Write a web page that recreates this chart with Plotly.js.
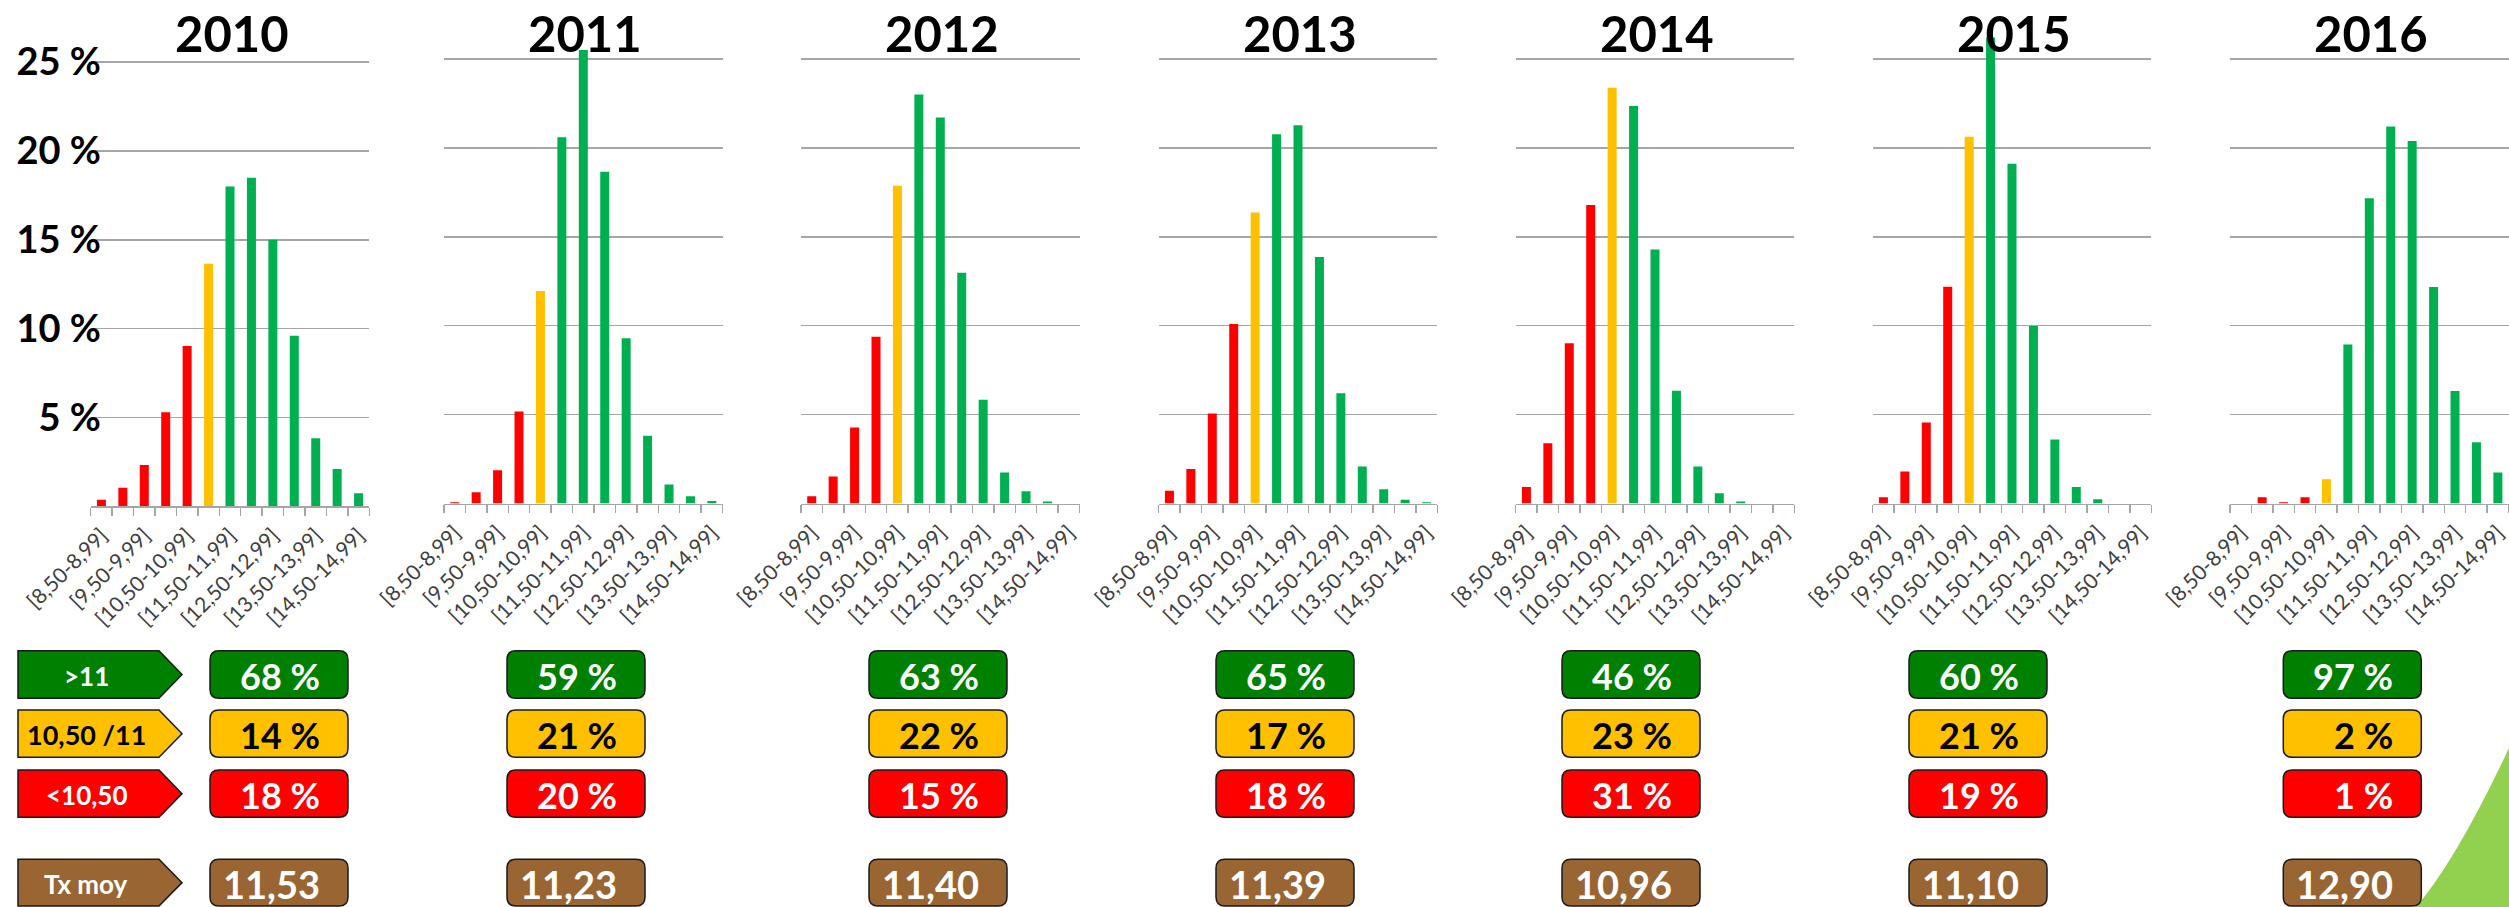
<!DOCTYPE html>
<html>
<head>
<meta charset="utf-8">
<script src="https://cdn.plot.ly/plotly-3.0.1.min.js"></script>
<style>
  html, body { margin: 0; padding: 0; background: #ffffff; }
  #chart { width: 2509px; height: 907px; }
</style>
</head>
<body>
<div id="chart"></div>
<script>
// ---------------- DATA ----------------
const years = ['2010', '2011', '2012', '2013', '2014', '2015', '2016'];

const categories = ['[8,50-8,99]', '[9,00-9,49]', '[9,50-9,99]', '[10,00-10,49]', '[10,50-10,99]',
  '[11,00-11,49]', '[11,50-11,99]', '[12,00-12,49]', '[12,50-12,99]', '[13,00-13,49]',
  '[13,50-13,99]', '[14,00-14,49]', '[14,50-14,99]'];

const v2010 = [0.38, 1.05, 2.33, 5.30, 9.03, 13.66, 18.0, 18.5, 15.0, 9.6, 3.84, 2.1, 0.74];
const v2011 = [0.08, 0.64, 1.87, 5.18, 11.95, 20.6, 25.5, 18.65, 9.3, 3.82, 1.08, 0.42, 0.14];
const v2012 = [0.42, 1.53, 4.28, 9.38, 17.87, 23.0, 21.7, 12.97, 5.84, 1.75, 0.70, 0.12, 0];
const v2013 = [0.72, 1.95, 5.06, 10.1, 16.37, 20.76, 21.27, 13.86, 6.2, 2.09, 0.8, 0.22, 0.08];
const v2014 = [0.94, 3.39, 9.02, 16.79, 23.37, 22.35, 14.28, 6.35, 2.09, 0.58, 0.12, 0, 0];
const v2015 = [0.36, 1.81, 4.56, 12.19, 20.62, 26.2, 19.1, 9.98, 3.61, 0.94, 0.24, 0, 0];
const v2016 = [0, 0.36, 0.08, 0.36, 1.37, 8.94, 17.17, 21.2, 20.38, 12.17, 6.33, 3.45, 1.75];

// class of each bar: r = <10,50, y = 10,50/11, g = >11
const c2010 = ['r','r','r','r','r','y','g','g','g','g','g','g','g'];
const c2011 = ['r','r','r','r','y','g','g','g','g','g','g','g','g'];
const c2012 = c2011, c2013 = c2011, c2014 = c2011, c2015 = c2011, c2016 = c2011;

const yTicks = [5, 10, 15, 20, 25];

const rowLabels = ['>11', '10,50 /11', '<10,50', 'Tx moy'];
const pctHigh = [68, 59, 63, 65, 46, 60, 97];
const pctMid  = [14, 21, 22, 17, 23, 21, 2];
const pctLow  = [18, 20, 15, 18, 31, 19, 1];
const txMoy   = ['11,53', '11,23', '11,40', '11,39', '10,96', '11,10', '12,90'];

// ---------------- STYLE / LAYOUT ----------------
const values = [v2010, v2011, v2012, v2013, v2014, v2015, v2016];
const classes = [c2010, c2011, c2012, c2013, c2014, c2015, c2016];
const barColor = { r: '#FF0000', y: '#FFC000', g: '#00B050' };

const W = 2509, H = 907;
const px = x => x / W;
const py = y => 1 - y / H;

const panelLeft = [90.7, 444.0, 801.0, 1158.7, 1515.7, 1872.7, 2230.0];
const panelW = 278.6;
const baseY = [506.4, 503.6, 503.6, 503.6, 503.6, 503.6, 503.6];
const pxPerPct = [17.77, 17.79, 17.79, 17.79, 17.79, 17.79, 17.79];
const yMax = 27;

const boxLeft = [210, 507, 869, 1216, 1562, 1909, 2283.3];
const boxW = 138;
const rowsY = [[650.7, 698.3], [710, 757.3], [770, 817.3], [859.3, 906]];
const rowFill = ['#008000', '#FFC000', '#FF0000', '#996633'];
const rowText = ['#ffffff', '#000000', '#ffffff', '#ffffff'];

const FONT = 'Lato, "Open Sans", sans-serif';

const traces = [];
const layout = {
  width: W, height: H,
  margin: { l: 0, r: 0, t: 0, b: 0 },
  paper_bgcolor: '#ffffff', plot_bgcolor: 'rgba(0,0,0,0)',
  showlegend: false, bargap: 0.58,
  font: { family: FONT },
  shapes: [], annotations: []
};

const xIdx = categories.map((c, j) => j);
const labelIdx = xIdx.filter(j => j % 2 === 0);

years.forEach((yr, i) => {
  const sx = i === 0 ? '' : String(i + 1);
  traces.push({
    type: 'bar',
    x: xIdx,
    y: values[i],
    xaxis: 'x' + sx, yaxis: 'y' + sx,
    marker: { color: classes[i].map(c => barColor[c]), line: { width: 0 } },
    width: 0.42,
    hoverinfo: 'x+y'
  });
  const L = panelLeft[i];
  layout['xaxis' + sx] = {
    domain: [px(L), px(L + panelW)],
    anchor: 'y' + sx,
    range: [-0.5, 12.5],
    fixedrange: true,
    showgrid: false, zeroline: false,
    showline: true, linecolor: '#a6a6a6', linewidth: 1.5,
    tickmode: 'array',
    tickvals: labelIdx,
    ticktext: labelIdx.map(j => categories[j]),
    tickangle: -45,
    ticklabeloverflow: 'allow',
    ticks: 'outside', ticklen: 7, tickcolor: 'rgba(0,0,0,0)',
    tickfont: { family: FONT, size: 21, color: '#404040' },
    minor: { ticks: 'outside', ticklen: 8, tickwidth: 1.5, tickcolor: '#a6a6a6',
             tickmode: 'linear', tick0: -0.5, dtick: 1, showgrid: false }
  };
  const b = baseY[i];
  const yax = {
    domain: [py(b), py(b - yMax * pxPerPct[i])],
    range: [0, yMax],
    fixedrange: true,
    showgrid: true, gridcolor: '#a6a6a6', gridwidth: 1.5,
    zeroline: false, showline: false,
    tickmode: 'array', tickvals: yTicks,
    ticktext: yTicks.map(v => v + ' %'),
    ticks: '',
    showticklabels: i === 0,
    tickfont: { family: FONT, size: 38, color: '#000000', weight: 'bold' }
  };
  if (i === 0) { yax.anchor = 'free'; yax.position = px(101); }
  else { yax.anchor = 'x' + sx; }
  layout['yaxis' + sx] = yax;

  // year title
  layout.annotations.push({
    xref: 'paper', yref: 'paper', x: px(L + panelW / 2 + 2), y: py(33),
    xanchor: 'center', yanchor: 'middle', showarrow: false,
    text: '<b>' + yr + '</b>', font: { family: FONT, size: 49, color: '#000000' }
  });
});

// 2010 gridlines start a little right of the axis start (label box covers them)
layout.shapes.push({
  type: 'rect', layer: 'between', xref: 'paper', yref: 'y',
  x0: px(89), x1: px(117), y0: 4, y1: yMax,
  fillcolor: '#ffffff', line: { width: 0 }
});

function P(x, y) { return px(x).toFixed(6) + ',' + py(y).toFixed(6); }
function roundRect(x0, y0, x1, y1, r) {
  return 'M' + P(x0 + r, y0) + ' L' + P(x1 - r, y0) + ' Q' + P(x1, y0) + ' ' + P(x1, y0 + r) +
    ' L' + P(x1, y1 - r) + ' Q' + P(x1, y1) + ' ' + P(x1 - r, y1) +
    ' L' + P(x0 + r, y1) + ' Q' + P(x0, y1) + ' ' + P(x0, y1 - r) +
    ' L' + P(x0, y0 + r) + ' Q' + P(x0, y0) + ' ' + P(x0 + r, y0) + ' Z';
}

// decorative green shape (bottom right)
layout.shapes.push({
  type: 'path', xref: 'paper', yref: 'paper', layer: 'below',
  path: 'M' + P(2416, 907) + ' Q' + P(2456.3, 860.3) + ' ' + P(2509, 748) + ' L' + P(2509, 907) + ' Z',
  fillcolor: '#92D050', line: { width: 0 }
});

// row label arrows
rowLabels.forEach((lab, r) => {
  const [y0, y1] = rowsY[r];
  const x0 = 18, xb = 159, xt = 182;
  layout.shapes.push({
    type: 'path', xref: 'paper', yref: 'paper',
    path: 'M' + P(x0, y0) + ' L' + P(xb, y0) + ' L' + P(xt, (y0 + y1) / 2) + ' L' + P(xb, y1) + ' L' + P(x0, y1) + ' Z',
    fillcolor: rowFill[r], line: { color: '#1a1a1a', width: 1.5 }
  });
  layout.annotations.push({
    xref: 'paper', yref: 'paper', x: px(86), y: py((y0 + y1) / 2 + 1),
    xanchor: 'center', yanchor: 'middle', showarrow: false,
    text: '<b>' + lab + '</b>',
    font: { family: FONT, size: r === 1 ? 27 : 26, color: rowText[r] }
  });
});

// value boxes
const rowValues = [
  pctHigh.map(v => v + ' %'),
  pctMid.map(v => v + ' %'),
  pctLow.map(v => v + ' %'),
  txMoy
];
years.forEach((yr, i) => {
  const x0 = boxLeft[i], x1 = boxLeft[i] + boxW;
  rowValues.forEach((vals, r) => {
    const [y0, y1] = rowsY[r];
    layout.shapes.push({
      type: 'path', xref: 'paper', yref: 'paper',
      path: roundRect(x0, y0, x1, y1, 9),
      fillcolor: rowFill[r], line: { color: '#1a1a1a', width: 1.5 }
    });
    layout.annotations.push({
      xref: 'paper', yref: 'paper', x: px(x1 - 26), y: py((y0 + y1) / 2 + 1),
      xanchor: 'right', yanchor: 'middle', showarrow: false,
      text: '<b>' + vals[i] + '</b>',
      font: { family: FONT, size: r === 3 ? 38 : 36, color: rowText[r] }
    });
  });
});

Plotly.newPlot('chart', traces, layout, { displayModeBar: false, staticPlot: true });
</script>
</body>
</html>
